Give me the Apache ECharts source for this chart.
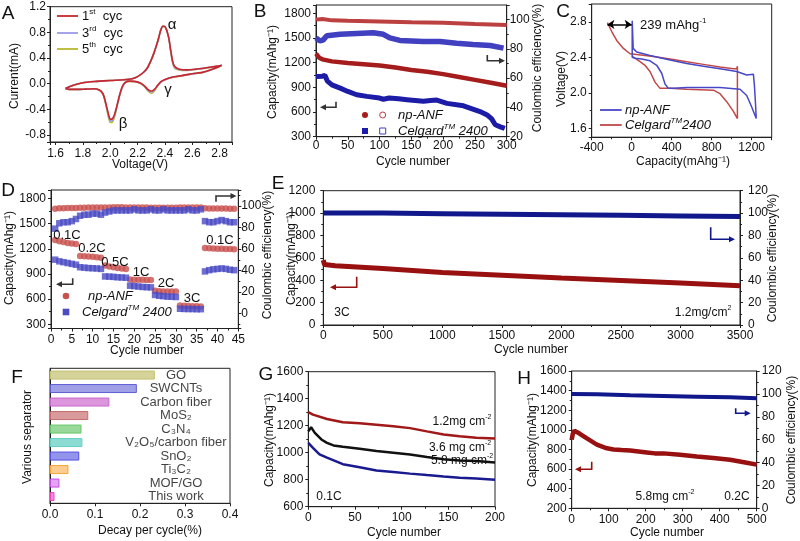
<!DOCTYPE html>
<html>
<head>
<meta charset="utf-8">
<script src="https://cdn.jsdelivr.net/npm/echarts@6/dist/echarts.min.js"></script>
<style>html,body{margin:0;background:#fff}#chart{width:800px;height:541px}</style>
</head>
<body>
<div id="chart"></div>
<script>
// ---- A: cyclic voltammetry (shared voltage points, one current array per cycle)
var cvV = [1.673,1.73,1.80,1.90,2.00,2.10,2.16,2.20,2.24,2.27,2.30,2.32,2.34,2.355,2.37,2.385,2.395,2.41,2.42,2.43,2.44,2.455,2.47,2.50,2.56,2.62,2.68,2.74,2.80,2.815,
  2.79,2.74,2.68,2.60,2.52,2.45,2.40,2.37,2.345,2.325,2.305,2.29,2.27,2.25,2.22,2.18,2.14,2.11,2.09,2.075,2.06,2.045,2.03,2.015,2.00,1.99,1.975,1.96,1.945,1.92,1.88,1.82,1.76,1.70,1.673];
var cv1I = [-0.075,-0.025,0.015,0.035,0.05,0.06,0.075,0.11,0.17,0.24,0.37,0.48,0.61,0.72,0.84,0.895,0.895,0.85,0.78,0.69,0.55,0.36,0.27,0.23,0.215,0.225,0.24,0.26,0.28,0.285,
  0.26,0.22,0.18,0.155,0.125,0.10,0.065,0.03,-0.03,-0.085,-0.115,-0.11,-0.08,-0.035,0.01,0.035,0.04,0.02,-0.04,-0.13,-0.25,-0.38,-0.49,-0.55,-0.555,-0.50,-0.37,-0.24,-0.15,-0.10,-0.08,-0.085,-0.09,-0.09,-0.075];
var cv3I = [-0.075,-0.025,0.015,0.035,0.05,0.06,0.075,0.11,0.17,0.24,0.37,0.48,0.61,0.72,0.84,0.895,0.895,0.85,0.78,0.69,0.54,0.35,0.255,0.22,0.21,0.222,0.238,0.258,0.278,0.285,
  0.258,0.218,0.178,0.152,0.122,0.098,0.062,0.025,-0.035,-0.095,-0.13,-0.125,-0.09,-0.04,0.008,0.033,0.038,0.018,-0.045,-0.135,-0.255,-0.39,-0.51,-0.575,-0.58,-0.52,-0.38,-0.245,-0.152,-0.10,-0.08,-0.085,-0.09,-0.09,-0.075];
var cv5I = [-0.075,-0.025,0.015,0.035,0.05,0.06,0.075,0.11,0.17,0.24,0.37,0.48,0.61,0.72,0.84,0.89,0.89,0.85,0.78,0.69,0.53,0.34,0.245,0.215,0.205,0.22,0.235,0.255,0.276,0.285,
  0.255,0.215,0.175,0.15,0.12,0.095,0.06,0.02,-0.04,-0.105,-0.15,-0.14,-0.10,-0.045,0.005,0.03,0.035,0.015,-0.05,-0.14,-0.26,-0.40,-0.53,-0.60,-0.605,-0.545,-0.40,-0.25,-0.155,-0.10,-0.08,-0.085,-0.09,-0.09,-0.075];

// ---- B: long cycling at 0.2C
var bAnfCapX = [0,5,10,25,50,75,100,125,150,175,200,225,250,275,300];
var bAnfCap  = [1310,1260,1240,1215,1195,1180,1165,1140,1110,1090,1060,1025,990,955,920];
var bCelCapX = [0,10,14,18,25,38,50,64,80,100,106,115,130,143,169,180,190,206,232,258,270,276,282,290,297];
var bCelCap  = [1030,1035,1045,975,930,890,850,810,790,770,755,770,760,750,730,740,745,705,675,605,560,520,445,420,400];
var bAnfCeX  = [0,10,25,50,100,150,200,250,300];
var bAnfCe   = [100,100.5,99.5,99.2,98.8,98.2,97.8,97,96.3];
var bCelCeX  = [0,6,11,17,38,64,90,106,116,132,169,195,221,247,274,295];
var bCelCe   = [87.5,85.5,86,89,90,90.5,91,90,87.5,85.8,85,85,83.8,83,82.3,80.5];

// ---- C: charge/discharge profiles
var cAnfCap = [5,5,33,100,183,250,300,333,367,417,550,883,1083,1150,1200,1245,1240,1228,1217,1200,1150,1050,883,717,550,383,183,50,15,5];
var cAnfV   = [2.81,2.40,2.39,2.38,2.36,2.31,2.22,2.10,2.05,2.05,2.06,2.06,2.04,1.97,1.84,1.71,1.84,2.07,2.21,2.19,2.20,2.24,2.27,2.30,2.33,2.37,2.42,2.46,2.50,2.81];
var cCelCap = [-243,-200,-150,-83,-17,50,217,383,550,717,883,1017,1050,1057,1057,1017,950,883,817,550,383,283,233,183,133,83,33,5];
var cCelV   = [2.79,2.69,2.59,2.50,2.44,2.43,2.41,2.38,2.35,2.32,2.29,2.27,2.27,2.30,1.71,1.79,1.90,1.99,2.03,2.04,2.05,2.05,2.12,2.24,2.31,2.35,2.39,2.41];
var cGapCap = [-243, 0];
var cGapV = 2.77;

// ---- D: rate performance
var dCycles = [1,2,3,4,5,6,7,8,9,10,11,12,13,14,15,16,17,18,19,20,21,22,23,24,25,26,27,28,29,30,31,32,33,34,35,36,37,38,39,40,41,42,43,44];
var dAnfCap = [1305,1290,1280,1270,1262,1258,1115,1112,1108,1105,1100,1092,1000,990,980,972,965,960,835,832,830,830,828,828,700,695,692,692,690,690,525,520,518,515,515,512,1210,1205,1202,1200,1200,1198,1196,1195];
var dCelCap = [1070,1050,1040,1030,1020,1010,980,975,970,968,965,960,870,868,865,860,858,855,760,755,750,745,742,740,650,640,635,630,628,625,485,483,482,482,480,480,930,945,955,960,965,960,950,945];
var dAnfCe  = [97.5,98,98,98.2,98.3,98.3,98.5,98.5,98.6,98.6,98.6,98.6,98.8,98.8,98.9,98.9,98.9,98.8,98.7,98.7,98.6,98.6,98.6,98.5,98.5,98.4,98.4,98.5,98.5,98.4,98.7,98.8,98.8,98.7,98.7,98.6,98,97.8,97.8,97.7,97.7,97.7,97.6,97.6];
var dCelCe  = [79,84,85,85,86,88,91,92,92,93,93,92,94,95,96,96,96,96,96,97,96,96,96,97,96,96,97,96,96,96,96,96,97,96,96,97,86,85,85,86,87,86,85,85];
var dRates = ['0.1C','0.2C','0.5C','1C','2C','3C','0.1C'];

// ---- E: 3500 cycles at 3C
var eCapX = [0,10,100,500,1000,1500,2000,2500,3000,3500];
var eCap  = [580,540,530,505,470,445,420,398,375,350];
var eCeX  = [0,500,1000,1500,2000,2500,3000,3500];
var eCe   = [100,100,99.5,99,98.5,98,97.5,97];

// ---- F: decay per cycle
var fNames = ['GO','SWCNTs','Carbon fiber','MoS\u2082','C\u2083N\u2084','V\u2082O\u2085/carbon fiber','SnO\u2082','Ti\u2083C\u2082','MOF/GO','This work'];
var fDecay = [0.233,0.193,0.132,0.085,0.070,0.072,0.065,0.041,0.021,0.010];

// ---- G: loading comparison at 0.1C
var gRedX   = [0,5,20,37,55,73,91,109,127,145,162,180,200];
var gRed    = [1300,1282,1250,1225,1218,1207,1196,1182,1158,1135,1122,1110,1105];
var gBlackX = [0,3,7,14,20,27,37,55,73,91,109,127,145,162,180,200];
var gBlack  = [1158,1188,1147,1098,1073,1054,1044,1029,1012,1000,987,968,951,943,938,928];
var gBlueX  = [0,5,12,20,37,55,73,91,109,127,145,162,180,200];
var gBlue   = [1072,1036,988,963,915,892,868,857,845,834,824,815,808,800];

// ---- H: 5.8 mg cm-2 at 0.2C
var hCapX = [0,3,7,15,22,40,68,95,113,135,158,203,225,248,293,338,383,428,473,500];
var hCap  = [900,960,990,975,960,915,850,812,800,795,790,770,760,760,745,728,712,695,665,645];
var hCeX  = [0,68,158,248,338,428,500];
var hCe   = [100,99.6,98.8,98.2,97.6,97,96.2];

var FONT = 'Liberation Sans, Arial, sans-serif';
var INK = '#111';
var fColors = ['#d6d39a','#a0a0e6','#dc96dc','#d89a9a','#98d898','#8cdcd4','#9494ec','#fccc90','#e4a4f4','#f48cd8'];
var F_LABEL_X = 0.28;

function zip(xs, ys) { return xs.map(function (x, i) { return [x, ys[i]]; }); }
function dec(d) { return function (v) { return v.toFixed(d); }; }
function plain(v) { return String(v); }

function valAxis(grid, min, max, step, o) {
  o = o || {};
  var onStep = function (v) { return Math.abs(v / step - Math.round(v / step)) < 1e-9; };
  return {
    type: 'value', gridIndex: grid, min: min, max: max,
    minInterval: step, maxInterval: step,
    position: o.position,
    axisLine: {show: true, onZero: false, lineStyle: {color: '#222', width: 1}},
    axisTick: {show: true, inside: false, length: 3, lineStyle: {color: '#222'}},
    minorTick: {show: true, splitNumber: 2, length: 2, lineStyle: {color: '#222'}},
    splitLine: {show: false},
    axisLabel: {fontSize: 12, color: INK, fontFamily: FONT, margin: o.margin == null ? 4 : o.margin,
      showMinLabel: onStep(min), showMaxLabel: onStep(max), formatter: o.fmt || plain}
  };
}

function line(xi, yi, data, color, width, extra) {
  return Object.assign({type: 'line', xAxisIndex: xi, yAxisIndex: yi, data: data,
    showSymbol: false, symbol: 'none', silent: true,
    lineStyle: {color: color, width: width}, itemStyle: {color: color}}, extra || {});
}
function dots(yi, ys, color, sym) {
  return {type: 'scatter', xAxisIndex: 3, yAxisIndex: yi, data: zip(dCycles, ys),
    symbol: sym, symbolSize: 6.5, silent: true, itemStyle: {color: color}};
}

function supRich(size, italic) {
  var st = italic ? 'italic' : 'normal';
  return {
    a: {fontSize: size, fontFamily: FONT, fontStyle: st, color: INK, lineHeight: size + 4},
    s: {fontSize: Math.round(size * 0.6), fontFamily: FONT, fontStyle: st, color: INK, verticalAlign: 'top'}
  };
}
function T(x, y, text, o) {
  o = o || {};
  return {type: 'text', x: x, y: y, z: 100, rotation: o.rot ? Math.PI / 2 : 0,
    style: {text: text, fill: o.color || INK, fontSize: o.size || 12, fontFamily: FONT,
      fontStyle: o.italic ? 'italic' : 'normal', align: o.align || 'center', verticalAlign: 'middle', rich: o.rich}};
}
function bend(pts, color) {
  var n = pts.length, e = pts[n - 1], p = pts[n - 2];
  var d = e[0] > p[0] ? 1 : -1;
  var body = pts.slice(0, n - 1).concat([[e[0] - d * 4, e[1]]]);
  return [
    {type: 'polyline', z: 100, shape: {points: body}, style: {stroke: color, lineWidth: 1.6, fill: null}},
    {type: 'polygon', z: 100, shape: {points: [[e[0], e[1]], [e[0] - d * 6, e[1] - 3], [e[0] - d * 6, e[1] + 3]]}, style: {fill: color}}
  ];
}
function seg(x1, x2, y, color) {
  return {type: 'line', z: 100, shape: {x1: x1, y1: y, x2: x2, y2: y}, style: {stroke: color, lineWidth: 1.8}};
}

var RED_A = '#c8282d', BLUE_A = '#9a9ae8', OLIVE_A = '#b8b830';
var RED_B = '#a51c1c', RED_BCE = '#bd4040', BLUE_B = '#1c1ca6', BLUE_BCE = '#4040c0';
var BLUE_C = '#4848c8', RED_C = '#c04848';
var RED_D = '#c8504e', BLUE_D = '#4b4bc4';
var RED_E = '#981010', BLUE_E = '#10188c';

var grids = [
  {left: 50, top: 6.7, width: 182, height: 135.3},
  {left: 316, top: 5, width: 190.7, height: 131.7},
  {left: 591.7, top: 4, width: 180, height: 133.2},
  {left: 51, top: 190, width: 187.3, height: 138.5},
  {left: 323.3, top: 190.7, width: 416.7, height: 134.3},
  {left: 50, top: 368.3, width: 180, height: 135},
  {left: 308.3, top: 371.7, width: 186.7, height: 135},
  {left: 571.7, top: 371, width: 185, height: 137.3}
].map(function (g) {
  return Object.assign({show: true, borderColor: '#222', borderWidth: 1, backgroundColor: 'transparent', outerBoundsMode: 'none'}, g);
});

var xAxes = [
  valAxis(0, 1.56, 2.89, 0.2, {margin: 6, fmt: dec(1)}),
  valAxis(1, 0, 300, 50, {margin: 3}),
  valAxis(2, -400, 1400, 400, {margin: 4}),
  valAxis(3, 0, 45, 5, {margin: 5}),
  valAxis(4, 0, 3500, 500, {margin: 5}),
  valAxis(5, 0, 0.4, 0.1, {margin: 5, fmt: dec(1)}),
  valAxis(6, 0, 200, 50, {margin: 5}),
  valAxis(7, 0, 500, 100, {margin: 5})
];
xAxes[5].minorTick.show = false;

var yAxes = [
  valAxis(0, -0.91, 1.2, 0.4, {position: 'left', fmt: dec(1), margin: 4}),
  valAxis(1, 300, 1900, 300, {position: 'left', margin: 5}),
  valAxis(1, 20, 110, 20, {position: 'right', margin: 3}),
  valAxis(2, 1.5, 3.0, 0.4, {position: 'left', fmt: dec(1), margin: 5}),
  valAxis(3, 250, 1900, 300, {position: 'left', margin: 5}),
  valAxis(3, -14, 115, 20, {position: 'right', margin: 3}),
  valAxis(4, 0, 1200, 200, {position: 'left', margin: 8}),
  valAxis(4, 0, 120, 20, {position: 'right', margin: 8}),
  {type: 'category', gridIndex: 5, inverse: true, data: fNames,
    axisLine: {show: true, lineStyle: {color: '#222'}}, axisTick: {show: false}, axisLabel: {show: false}},
  valAxis(6, 600, 1600, 200, {position: 'left', margin: 5}),
  valAxis(7, 200, 1600, 200, {position: 'left', margin: 5}),
  valAxis(7, 0, 120, 20, {position: 'right', margin: 5})
];

var series = [
  // A
  line(0, 0, zip(cvV, cv5I), OLIVE_A, 1.6, {smooth: 0.2}),
  line(0, 0, zip(cvV, cv3I), BLUE_A, 1.6, {smooth: 0.2}),
  line(0, 0, zip(cvV, cv1I), RED_A, 1.6, {smooth: 0.2}),
  // B
  line(1, 2, zip(bAnfCeX, bAnfCe), RED_BCE, 4),
  line(1, 2, zip(bCelCeX, bCelCe), BLUE_BCE, 5.5),
  line(1, 1, zip(bAnfCapX, bAnfCap), RED_B, 4.5),
  line(1, 1, zip(bCelCapX, bCelCap), BLUE_B, 5),
  // C
  line(2, 3, zip(cCelCap, cCelV), RED_C, 1.5),
  line(2, 3, zip(cAnfCap, cAnfV), BLUE_C, 1.5, {
    markLine: {silent: true, symbol: ['arrow', 'arrow'], symbolSize: 7,
      lineStyle: {color: '#000', width: 1.5, type: 'solid'}, label: {show: false},
      data: [[{coord: [cGapCap[0], cGapV]}, {coord: [cGapCap[1], cGapV]}]]}
  }),
  // D
  dots(5, dAnfCe, RED_D, 'circle'),
  dots(5, dCelCe, BLUE_D, 'rect'),
  dots(4, dAnfCap, RED_D, 'circle'),
  dots(4, dCelCap, BLUE_D, 'rect'),
  // E
  line(4, 7, zip(eCeX, eCe), BLUE_E, 5),
  line(4, 6, zip(eCapX, eCap), RED_E, 5),
  // F
  {type: 'bar', xAxisIndex: 5, yAxisIndex: 8, barWidth: 9, silent: true,
    data: fDecay.map(function (v, i) {
      return {value: v, itemStyle: {color: fColors[i], borderColor: echarts.color.modifyHSL(fColors[i], null, null, 0.6), borderWidth: 1}};
    })},
  {type: 'scatter', xAxisIndex: 5, yAxisIndex: 8, symbol: 'circle', symbolSize: 1, silent: true, z: 5,
    itemStyle: {color: 'rgba(0,0,0,0)'},
    data: fNames.map(function (n) { return [F_LABEL_X, n]; }),
    label: {show: true, position: 'inside', formatter: function (p) { return '{n|' + fNames[p.dataIndex] + '}'; },
      rich: {n: {fontSize: 13, color: INK, fontFamily: FONT}}}},
  // G
  line(6, 9, zip(gRedX, gRed), '#a01818', 2.5),
  line(6, 9, zip(gBlackX, gBlack), '#111111', 2.5),
  line(6, 9, zip(gBlueX, gBlue), '#1a1a90', 2.5),
  // H
  line(7, 11, zip(hCeX, hCe), BLUE_E, 4),
  line(7, 10, zip(hCapX, hCap), RED_E, 4.5)
];

var rTm = supRich(13, true);
var g = [];
// panel letters
[['A', 8, 14], ['B', 260, 12], ['C', 563, 12], ['D', 8, 191], ['E', 278, 184], ['F', 17, 378], ['G', 266, 375], ['H', 524, 379]]
  .forEach(function (l) { g.push(T(l[1], l[2], l[0], {size: 19})); });
// axis titles
g.push(T(15, 76, 'Current(mA)', {rot: 1}), T(140, 165, 'Voltage(V)'));
g.push(T(273, 72, 'Capacity(mAhg\u207B\u00B9)', {rot: 1}), T(538, 68, 'Coulombic efficiency(%)', {rot: 1}), T(413, 162, 'Cycle number'));
g.push(T(562, 79, 'Voltage(V)', {rot: 1}), T(683, 162, 'Capacity(mAhg\u207B\u00B9)'));
g.push(T(10, 258, 'Capacity(mAhg\u207B\u00B9)', {rot: 1}), T(268, 255, 'Coulombic efficiency(%)', {rot: 1}), T(147, 351, 'Cycle number'));
g.push(T(292, 258, 'Capacity(mAng\u207B\u00B9)', {rot: 1}), T(773, 258, 'Coulombic efficiency(%)', {rot: 1}), T(531, 350, 'Cycle number'));
g.push(T(28, 437, 'Various separator', {rot: 1}), T(150, 531, 'Decay per cycle(%)'));
g.push(T(270, 440, 'Capacity(mAhg\u207B\u00B9)', {rot: 1}), T(404, 533, 'Cycle number'));
g.push(T(533, 440, 'Capacity(mAhg\u207B\u00B9)', {rot: 1}), T(792, 440, 'Coulombic efficiency(%)', {rot: 1}), T(667, 533, 'Cycle number'));
// A legend and peak marks
[[RED_A, '1', 'st', 16], [BLUE_A, '3', 'rd', 33], [OLIVE_A, '5', 'th', 49]].forEach(function (r) {
  g.push(seg(57, 78, r[3], r[0]));
  g.push(T(82, r[3], '{a|' + r[1] + '}{s|' + r[2] + '}{a|  cyc}', {align: 'left', rich: supRich(13, false)}));
});
g.push(T(172, 25, '\u03B1', {size: 15}), T(168, 90, '\u03B3', {size: 15}), T(123, 124, '\u03B2', {size: 15}));
// B legend
g.push({type: 'circle', z: 100, shape: {cx: 365, cy: 115, r: 3}, style: {fill: RED_B}});
g.push({type: 'circle', z: 100, shape: {cx: 382.7, cy: 115, r: 3}, style: {fill: '#fff', stroke: RED_BCE, lineWidth: 1}});
g.push({type: 'rect', z: 100, shape: {x: 362, y: 128, width: 6, height: 6}, style: {fill: BLUE_B}});
g.push({type: 'rect', z: 100, shape: {x: 379.7, y: 128, width: 6, height: 6}, style: {fill: '#fff', stroke: BLUE_BCE, lineWidth: 1}});
g.push(T(398, 115, 'np-ANF', {align: 'left', italic: 1, size: 13}));
g.push(T(398, 131, '{a|Celgard}{s|TM}{a| 2400}', {align: 'left', rich: rTm}));
// C legend and capacity gap label
g.push(seg(600, 621.7, 110, BLUE_C), seg(600, 621.7, 125, RED_C));
g.push(T(625, 110, 'np-ANF', {align: 'left', italic: 1, size: 13}));
g.push(T(625, 125, '{a|Celgard}{s|TM}{a|2400}', {align: 'left', rich: rTm}));
g.push(T(640, 25, '{a|239 mAhg}{s|-1}', {align: 'left', rich: supRich(13, false)}));
// D legend and rate labels
g.push({type: 'circle', z: 100, shape: {cx: 66, cy: 296, r: 3.3}, style: {fill: RED_D}});
g.push({type: 'rect', z: 100, shape: {x: 62.7, y: 308.7, width: 6.6, height: 6.6}, style: {fill: BLUE_D}});
g.push(T(88, 296, 'np-ANF', {align: 'left', italic: 1, size: 13}));
g.push(T(82, 312, '{a|Celgard}{s|TM}{a| 2400}', {align: 'left', rich: rTm}));
[[67, 235], [92, 248], [115, 262], [141, 272], [166, 283], [192, 298], [220, 240]].forEach(function (p, i) {
  g.push(T(p[0], p[1], dRates[i], {size: 13}));
});
// E labels
g.push(T(342, 313, '3C'), T(703, 313, '{a|1.2mg/cm}{s|2}', {rich: supRich(12, false)}));
// G labels
g.push(T(462, 422, '{a|1.2mg cm}{s|-2}', {rich: supRich(12, false)}));
g.push(T(460, 448, '{a|3.6 mg cm}{s|-2}', {rich: supRich(12, false)}));
g.push(T(462, 461, '{a|5.8 mg cm}{s|-2}', {rich: supRich(12, false)}));
g.push(T(329, 497, '0.1C'));
// H labels
g.push(T(665, 497, '{a|5.8mg cm}{s|-2}', {rich: supRich(12, false)}), T(737, 497, '0.2C'));
// axis-pointing arrows
g = g.concat(
  bend([[336, 101.7], [336, 107.3], [320, 107.3]], '#333'),
  bend([[487.3, 55], [487.3, 60.7], [505, 60.7]], '#333'),
  bend([[72.7, 278.3], [72.7, 284.3], [56, 284.3]], '#333'),
  bend([[216, 201.7], [216, 196], [236.5, 196]], '#333'),
  bend([[356.7, 276.7], [356.7, 287.3], [330, 287.3]], RED_E),
  bend([[710.7, 227.3], [710.7, 239.3], [735, 239.3]], BLUE_E),
  bend([[591.7, 461.7], [591.7, 469.3], [575, 469.3]], RED_E),
  bend([[735.7, 408.3], [735.7, 413.3], [750.7, 413.3]], BLUE_E)
);

var chart = echarts.init(document.getElementById('chart'), null, {renderer: 'canvas'});
chart.setOption({
  animation: false,
  backgroundColor: '#fff',
  textStyle: {fontFamily: FONT},
  grid: grids,
  xAxis: xAxes,
  yAxis: yAxes,
  series: series,
  graphic: {elements: g}
});
</script>
</body>
</html>
